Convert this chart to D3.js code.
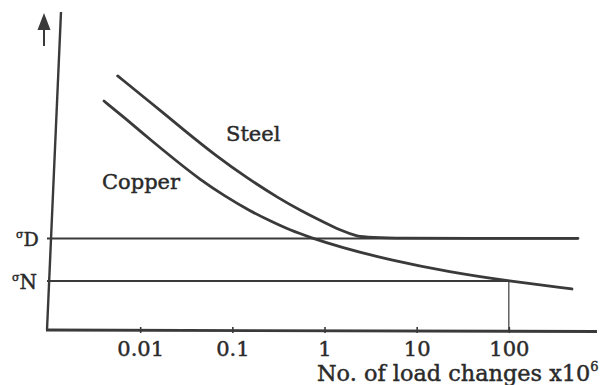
<!DOCTYPE html>
<html>
<head>
<meta charset="utf-8">
<script src="https://cdn.jsdelivr.net/npm/d3@7/dist/d3.min.js"></script>
<style>
  html, body { margin: 0; padding: 0; background: #fff; }
  svg { display: block; }
  text { font-family: "DejaVu Serif", "Liberation Serif", serif; fill: #2a2a2a; stroke: #2a2a2a; stroke-width: 0.45px; }
</style>
</head>
<body>
<svg id="chart" width="608" height="385"></svg>
<script>
// ---- data ----
const tickValues = [0.01, 0.1, 1, 10, 100];
const tickLabels = ["0.01", "0.1", "1", "10", "100"];

const steelN = [0.0057, 0.0128, 0.0306, 0.0649, 0.144, 0.329, 0.542, 0.964, 1.47, 2.25, 3.53, 562];
const steelS = [79.9, 71.7, 62.6, 55.0, 47.8, 41.2, 37.7, 34.0, 31.4, 29.4, 28.8, 28.8];

const copperN = [0.00405, 0.00776, 0.0128, 0.0239, 0.0446, 0.083, 0.156, 0.257, 0.423, 0.70, 1.47, 5.1, 23, 100, 484];
const copperS = [72.0, 65.3, 59.9, 53.5, 47.3, 42.1, 37.4, 34.3, 31.4, 29.1, 26.1, 22.0, 18.2, 15.4, 12.9];

const sigmaD = 28.8;       // endurance limit level
const sigmaN = 15.4;       // fatigue strength level
const sigmaDEndN = 562;    // right end of σD line
const sigmaNEndN = 100;    // σN line ends where copper crosses it

const seriesLabels = ["Steel", "Copper"];
const xTitle = "No. of load changes x10";
const xTitleSup = "6";

// ---- layout ----
const svg = d3.select("#chart");
const ink = "#3a3a3a";

const x = d3.scaleLog().domain([0.001, 1000]).range([48, 601]);
const y = d3.scaleLinear().domain([0, 100]).range([330, 12]);

// y axis (slightly slanted as in the scan)
svg.append("line")
  .attr("x1", 61).attr("y1", y(100))
  .attr("x2", 47).attr("y2", y(0))
  .attr("stroke", ink).attr("stroke-width", 2.4);

// arrow
svg.append("line")
  .attr("x1", 44).attr("y1", 46).attr("x2", 44).attr("y2", 27)
  .attr("stroke", ink).attr("stroke-width", 2);
svg.append("path")
  .attr("d", "M44,13 L50.5,30 L37.5,30 Z")
  .attr("fill", ink);

// x axis line
svg.append("line")
  .attr("x1", 46).attr("y1", y(0))
  .attr("x2", 597).attr("y2", y(0) + 1.5)
  .attr("stroke", ink).attr("stroke-width", 2.8);

// ticks & labels via d3 axis
const xAxis = d3.axisBottom(x)
  .tickValues(tickValues)
  .tickFormat((d, i) => tickLabels[i])
  .tickSizeInner(3)
  .tickSizeOuter(0);

const gx = svg.append("g")
  .attr("transform", `translate(0,${y(0)})`)
  .call(xAxis);
gx.select(".domain").remove();
gx.selectAll(".tick line")
  .attr("y1", -3).attr("y2", 3)
  .attr("stroke", ink).attr("stroke-width", 1.6);
gx.selectAll(".tick text")
  .attr("y", 26).attr("dy", 0)
  .attr("font-family", "DejaVu Serif")
  .attr("font-size", 21)
  .attr("fill", "#2a2a2a");

// axis title
const title = svg.append("text")
  .attr("x", 317).attr("y", 381)
  .attr("font-size", 22.4);
title.append("tspan").text(xTitle);
title.append("tspan").attr("font-size", 13).attr("dy", -10).text(xTitleSup);

// σD and σN horizontal lines
svg.append("line")
  .attr("x1", 47).attr("y1", y(sigmaD))
  .attr("x2", x(sigmaDEndN)).attr("y2", y(sigmaD))
  .attr("stroke", ink).attr("stroke-width", 2);
svg.append("line")
  .attr("x1", 47).attr("y1", y(sigmaN))
  .attr("x2", x(sigmaNEndN)).attr("y2", y(sigmaN))
  .attr("stroke", ink).attr("stroke-width", 2);

// vertical drop at N = 100
svg.append("line")
  .attr("x1", x(sigmaNEndN)).attr("y1", y(sigmaN))
  .attr("x2", x(sigmaNEndN)).attr("y2", y(0))
  .attr("stroke", ink).attr("stroke-width", 1.2);

// σ labels
const lD = svg.append("text").attr("x", 16).attr("y", 246).attr("font-size", 19);
lD.append("tspan").attr("font-size", 11).attr("dy", -8).text("σ");
lD.append("tspan").attr("dy", 8).text("D");

const lN = svg.append("text").attr("x", 12).attr("y", 289).attr("font-size", 20);
lN.append("tspan").attr("font-size", 11).attr("dy", -8).text("σ");
lN.append("tspan").attr("dy", 8).text("N");

// curves
const line = d3.line()
  .x(d => x(d[0]))
  .y(d => y(d[1]))
  .curve(d3.curveBasis);

const steel = steelN.map((n, i) => [n, steelS[i]]);
const copper = copperN.map((n, i) => [n, copperS[i]]);

svg.append("path").attr("d", line(steel))
  .attr("fill", "none").attr("stroke", ink).attr("stroke-width", 2.8)
  .attr("stroke-linecap", "round");
svg.append("path").attr("d", line(copper))
  .attr("fill", "none").attr("stroke", ink).attr("stroke-width", 2.8)
  .attr("stroke-linecap", "round");

// series labels
svg.append("text").attr("x", 226).attr("y", 141).attr("font-size", 21).text(seriesLabels[0]);
svg.append("text").attr("x", 102).attr("y", 189).attr("font-size", 21).text(seriesLabels[1]);
</script>
</body>
</html>
